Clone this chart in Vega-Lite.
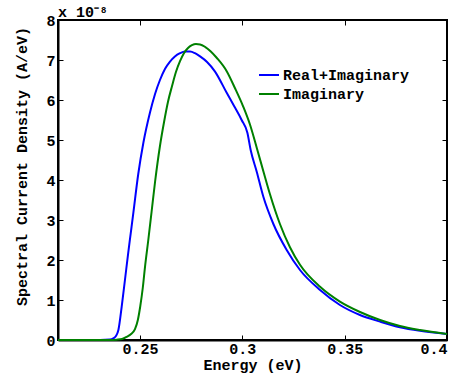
{
  "$schema": "https://vega.github.io/schema/vega-lite/v6.json",
  "width": 389,
  "height": 320,
  "autosize": {"type": "none"},
  "padding": {"left": 58, "top": 20, "right": 18, "bottom": 36},
  "background": "white",
  "title": {"text": "x 10⁻⁸", "anchor": "start", "frame": "group", "offset": 0, "dy": 7, "font": "Liberation Mono", "fontSize": 15, "fontWeight": "bold", "color": "black"},
  "data": {"values": [
    {"E": 0.21, "J": 0, "s": "Real+Imaginary"},
    {"E": 0.2305, "J": 0.003, "s": "Real+Imaginary"},
    {"E": 0.2354, "J": 0.012, "s": "Real+Imaginary"},
    {"E": 0.2370, "J": 0.04, "s": "Real+Imaginary"},
    {"E": 0.2383, "J": 0.1, "s": "Real+Imaginary"},
    {"E": 0.2395, "J": 0.25, "s": "Real+Imaginary"},
    {"E": 0.2411, "J": 0.83, "s": "Real+Imaginary"},
    {"E": 0.2427, "J": 1.5, "s": "Real+Imaginary"},
    {"E": 0.2443, "J": 2.18, "s": "Real+Imaginary"},
    {"E": 0.2455, "J": 2.66, "s": "Real+Imaginary"},
    {"E": 0.2468, "J": 3.18, "s": "Real+Imaginary"},
    {"E": 0.2492, "J": 4.15, "s": "Real+Imaginary"},
    {"E": 0.2517, "J": 4.93, "s": "Real+Imaginary"},
    {"E": 0.2549, "J": 5.68, "s": "Real+Imaginary"},
    {"E": 0.2574, "J": 6.15, "s": "Real+Imaginary"},
    {"E": 0.2598, "J": 6.5, "s": "Real+Imaginary"},
    {"E": 0.2623, "J": 6.78, "s": "Real+Imaginary"},
    {"E": 0.2647, "J": 6.96, "s": "Real+Imaginary"},
    {"E": 0.2671, "J": 7.09, "s": "Real+Imaginary"},
    {"E": 0.2696, "J": 7.17, "s": "Real+Imaginary"},
    {"E": 0.2720, "J": 7.21, "s": "Real+Imaginary"},
    {"E": 0.2745, "J": 7.21, "s": "Real+Imaginary"},
    {"E": 0.2769, "J": 7.17, "s": "Real+Imaginary"},
    {"E": 0.2794, "J": 7.09, "s": "Real+Imaginary"},
    {"E": 0.2828, "J": 6.95, "s": "Real+Imaginary"},
    {"E": 0.2867, "J": 6.71, "s": "Real+Imaginary"},
    {"E": 0.2924, "J": 6.18, "s": "Real+Imaginary"},
    {"E": 0.2960, "J": 5.85, "s": "Real+Imaginary"},
    {"E": 0.2997, "J": 5.5, "s": "Real+Imaginary"},
    {"E": 0.3025, "J": 5.18, "s": "Real+Imaginary"},
    {"E": 0.3041, "J": 4.75, "s": "Real+Imaginary"},
    {"E": 0.3071, "J": 4.2, "s": "Real+Imaginary"},
    {"E": 0.3103, "J": 3.58, "s": "Real+Imaginary"},
    {"E": 0.3152, "J": 2.9, "s": "Real+Imaginary"},
    {"E": 0.3217, "J": 2.25, "s": "Real+Imaginary"},
    {"E": 0.3282, "J": 1.75, "s": "Real+Imaginary"},
    {"E": 0.3380, "J": 1.25, "s": "Real+Imaginary"},
    {"E": 0.3477, "J": 0.875, "s": "Real+Imaginary"},
    {"E": 0.3575, "J": 0.625, "s": "Real+Imaginary"},
    {"E": 0.3673, "J": 0.46, "s": "Real+Imaginary"},
    {"E": 0.3770, "J": 0.32, "s": "Real+Imaginary"},
    {"E": 0.3868, "J": 0.23, "s": "Real+Imaginary"},
    {"E": 0.4, "J": 0.15, "s": "Real+Imaginary"},
    {"E": 0.21, "J": 0, "s": "Imaginary"},
    {"E": 0.2354, "J": 0.0, "s": "Imaginary"},
    {"E": 0.2387, "J": 0.008, "s": "Imaginary"},
    {"E": 0.2413, "J": 0.025, "s": "Imaginary"},
    {"E": 0.2436, "J": 0.08, "s": "Imaginary"},
    {"E": 0.2457, "J": 0.15, "s": "Imaginary"},
    {"E": 0.2476, "J": 0.27, "s": "Imaginary"},
    {"E": 0.2490, "J": 0.5, "s": "Imaginary"},
    {"E": 0.2502, "J": 0.85, "s": "Imaginary"},
    {"E": 0.2514, "J": 1.3, "s": "Imaginary"},
    {"E": 0.2525, "J": 1.83, "s": "Imaginary"},
    {"E": 0.2541, "J": 2.5, "s": "Imaginary"},
    {"E": 0.2557, "J": 3.2, "s": "Imaginary"},
    {"E": 0.2574, "J": 3.95, "s": "Imaginary"},
    {"E": 0.2598, "J": 4.85, "s": "Imaginary"},
    {"E": 0.2618, "J": 5.45, "s": "Imaginary"},
    {"E": 0.2637, "J": 5.95, "s": "Imaginary"},
    {"E": 0.2657, "J": 6.35, "s": "Imaginary"},
    {"E": 0.2676, "J": 6.7, "s": "Imaginary"},
    {"E": 0.2696, "J": 6.97, "s": "Imaginary"},
    {"E": 0.2715, "J": 7.17, "s": "Imaginary"},
    {"E": 0.2735, "J": 7.3, "s": "Imaginary"},
    {"E": 0.2754, "J": 7.37, "s": "Imaginary"},
    {"E": 0.2774, "J": 7.4, "s": "Imaginary"},
    {"E": 0.2794, "J": 7.39, "s": "Imaginary"},
    {"E": 0.2818, "J": 7.33, "s": "Imaginary"},
    {"E": 0.2845, "J": 7.22, "s": "Imaginary"},
    {"E": 0.2876, "J": 7.05, "s": "Imaginary"},
    {"E": 0.2924, "J": 6.72, "s": "Imaginary"},
    {"E": 0.2964, "J": 6.3, "s": "Imaginary"},
    {"E": 0.3005, "J": 5.83, "s": "Imaginary"},
    {"E": 0.3038, "J": 5.38, "s": "Imaginary"},
    {"E": 0.3071, "J": 4.8, "s": "Imaginary"},
    {"E": 0.3103, "J": 4.22, "s": "Imaginary"},
    {"E": 0.3135, "J": 3.65, "s": "Imaginary"},
    {"E": 0.3184, "J": 2.9, "s": "Imaginary"},
    {"E": 0.3233, "J": 2.32, "s": "Imaginary"},
    {"E": 0.3282, "J": 1.88, "s": "Imaginary"},
    {"E": 0.3380, "J": 1.33, "s": "Imaginary"},
    {"E": 0.3477, "J": 0.96, "s": "Imaginary"},
    {"E": 0.3575, "J": 0.7, "s": "Imaginary"},
    {"E": 0.3673, "J": 0.5, "s": "Imaginary"},
    {"E": 0.3770, "J": 0.35, "s": "Imaginary"},
    {"E": 0.3868, "J": 0.25, "s": "Imaginary"},
    {"E": 0.4, "J": 0.15, "s": "Imaginary"}
  ]},
  "layer": [
    {
      "mark": {"type": "line", "opacity": 0},
      "encoding": {
        "x": {"field": "E", "type": "quantitative", "scale": {"domain": [0.21, 0.4], "nice": false, "zero": false},
              "axis": {"orient": "top", "values": [0.25, 0.3, 0.35, 0.4], "labels": false, "title": null, "domain": false}},
        "y": {"field": "J", "type": "quantitative", "scale": {"domain": [0, 8], "nice": false},
              "axis": {"orient": "right", "values": [0,1,2,3,4,5,6,7,8], "labels": false, "title": null, "domain": false}}
      }
    },
    {
      "mark": {"type": "line", "strokeWidth": 2, "interpolate": "monotone"},
      "encoding": {
        "x": {"field": "E", "type": "quantitative", "scale": {"domain": [0.21, 0.4], "nice": false, "zero": false},
              "axis": {"orient": "bottom", "values": [0.25, 0.3, 0.35, 0.4], "format": "~g", "title": "Energy (eV)", "labelPadding": 6, "titlePadding": 1}},
        "y": {"field": "J", "type": "quantitative", "scale": {"domain": [0, 8], "nice": false},
              "axis": {"orient": "left", "values": [0,1,2,3,4,5,6,7,8], "title": "Spectral Current Density  (A/eV)", "labelPadding": 8, "titlePadding": 16, "titleY": 146}},
        "color": {"field": "s", "type": "nominal", "scale": {"domain": ["Real+Imaginary", "Imaginary"], "range": ["#0000ff", "#008000"]},
                  "legend": {"title": null, "orient": "none", "legendX": 200, "legendY": 44, "symbolType": "stroke", "symbolSize": 400, "symbolStrokeWidth": 2, "labelOffset": 3, "rowPadding": 0, "labelFont": "Liberation Mono", "labelFontSize": 15, "labelFontWeight": "bold", "labelColor": "black"}},
        "order": {"field": "s", "sort": "descending"}
      }
    }
  ],
  "resolve": {"axis": {"x": "independent", "y": "independent"}},
  "config": {
    "view": {"stroke": "black", "strokeWidth": 2},
    "axis": {"grid": false, "domainColor": "black", "domainWidth": 2, "tickColor": "black", "tickSize": -5, "tickWidth": 1,
             "labelFont": "Liberation Mono", "labelFontSize": 15, "labelFontWeight": "bold", "labelColor": "black",
             "titleFont": "Liberation Mono", "titleFontSize": 15, "titleFontWeight": "bold", "titleColor": "black"}
  }
}
